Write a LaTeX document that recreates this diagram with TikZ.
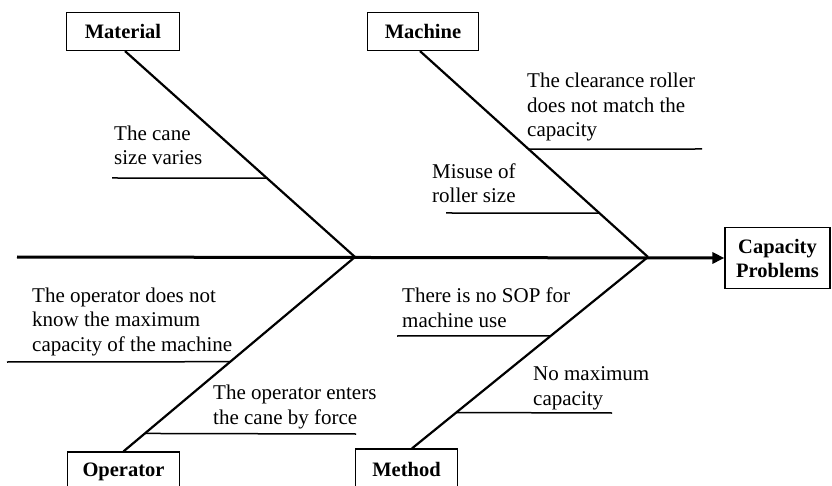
\documentclass[tikz,border=0pt]{standalone}
\usepackage{fontspec}
\setmainfont{Liberation Serif}
\usetikzlibrary{arrows.meta,calc}
\begin{document}
\begin{tikzpicture}[x=1pt,y=-1pt,
  lbl/.style={draw,line width=1.2pt,font=\fontsize{20.5}{24}\selectfont\bfseries,inner sep=0pt,align=center},
  cause/.style={font=\fontsize{21}{24.5}\selectfont,inner sep=0pt,anchor=base west,align=left},
  bone/.style={line width=2.2pt},
  sub/.style={line width=1.5pt},
  spine/.style={line width=3pt,-{Triangle[length=12pt,width=11pt]}}]
\useasboundingbox (0,0) rectangle (832,486);
% category boxes
\node[lbl,minimum width=113pt,minimum height=38pt] (mat) at (123,31.5) {Material};
\node[lbl,minimum width=111pt,minimum height=38pt] (mac) at (423,31.5) {Machine};
\node[lbl,minimum width=105pt,minimum height=61pt] (cap) at (777.5,258) {Capacity\\Problems};
\node[lbl,minimum width=112pt,minimum height=40pt] (ope) at (123.5,472) {Operator};
\node[lbl,minimum width=102pt,minimum height=40pt] (met) at (406.5,469) {Method};
% junctions
\coordinate (tail) at (17,257);
\coordinate (j1) at (355,257);
\coordinate (j2) at (648,257);
\coordinate (matb) at ([xshift=2pt]mat.south);
\coordinate (macb) at ([xshift=-3pt]mac.south);
\coordinate (opet) at (ope.north);
\coordinate (mett) at ([xshift=5.5pt]met.north);
% spine and bones
\draw[spine] (tail) -- (cap.west);
\draw[bone] (matb) -- (j1);
\draw[bone] (macb) -- (j2);
\draw[bone] (j1) -- (opet);
\draw[bone] (j2) -- (mett);
% sub-bone free ends
\coordinate (e1) at (112,178);
\coordinate (e2) at (702,149);
\coordinate (e3) at (446,213);
\coordinate (e4) at (7,362);
\coordinate (e5) at (356,434);
\coordinate (e6) at (397,336);
\coordinate (e7) at (612,413);
\draw[sub] (e1) -- ($(matb)!0.6165!(j1)$);
\draw[sub] ($(macb)!0.4757!(j2)$) -- (e2);
\draw[sub] (e3) -- ($(macb)!0.7864!(j2)$);
\draw[sub] (e4) -- ($(j1)!0.5385!(opet)$);
\draw[sub] ($(j1)!0.9077!(opet)$) -- (e5);
\draw[sub] (e6) -- ($(j2)!0.4115!(mett)$);
\draw[sub] ($(j2)!0.8125!(mett)$) -- (e7);
% cause texts (anchored at the baseline of the last line)
\node[cause] (t1) at (114,165) {The cane\\size varies};
\node[cause] (t2) at (527,137) {The clearance roller\\does not match the\\capacity};
\node[cause] (t3) at (432,203) {Misuse of\\roller size};
\node[cause] (t4) at (32,351) {The operator does not\\know the maximum\\capacity of the machine};
\node[cause] (t5) at (213,424) {The operator enters\\the cane by force};
\node[cause] (t6) at (402,327) {There is no SOP for\\machine use};
\node[cause] (t7) at (533,405) {No maximum\\capacity};
\end{tikzpicture}
\end{document}
